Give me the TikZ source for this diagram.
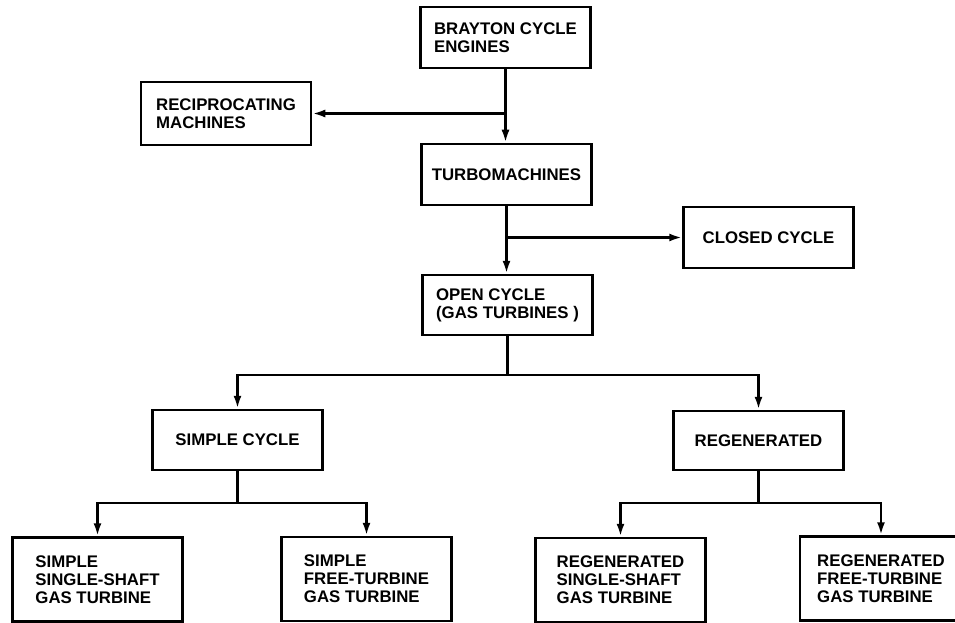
\documentclass[tikz,border=0pt]{standalone}
\usepackage{fontspec}
\setmainfont{Liberation Sans}
\usetikzlibrary{arrows.meta}
\tikzset{
  box/.style={draw, line width=2.5pt, rectangle, align=left, inner sep=0pt,
    font=\bfseries\fontsize{16.8}{18}\selectfont, minimum width=170pt, minimum height=61pt},
  tallbox/.style={box, minimum height=84pt},
  conn/.style={line width=2.6pt},
  arr/.style={conn, -{Latex[length=13pt,width=8pt]}}
}
\begin{document}
\begin{tikzpicture}[x=1pt,y=-1pt]
\useasboundingbox (0,0) rectangle (955,623);
\clip (0,0) rectangle (955,623);
\node[box] (brayton) at (505.5,37.5) {BRAYTON CYCLE\\ENGINES};
\node[box, minimum height=63pt] (recip) at (226,113.5) {RECIPROCATING\\MACHINES};
\node[box] (turbo) at (506.5,174.5) {TURBOMACHINES};
\node[box] (closed) at (768.5,237.5) {CLOSED CYCLE};
\node[box, minimum height=60pt] (open) at (507.5,305) {OPEN CYCLE\\(GAS TURBINES )};
\node[box, minimum height=60pt] (simple) at (237.5,440) {SIMPLE CYCLE};
\node[box, minimum height=59pt] (regen) at (758.5,440.5) {REGENERATED};
\node[tallbox] (ss) at (97.5,579.5) {SIMPLE\\SINGLE-SHAFT\\GAS TURBINE};
\node[tallbox] (sf) at (366.5,579) {SIMPLE\\FREE-TURBINE\\GAS TURBINE};
\node[tallbox] (rss) at (620.5,580) {REGENERATED\\SINGLE-SHAFT\\GAS TURBINE};
\node[tallbox, minimum width=162pt] (rft) at (881,578.5) {REGENERATED\\FREE-TURBINE\\GAS TURBINE};
% connectors
\draw[arr] (brayton.south) -- (brayton.south |- turbo.north);
\draw[arr] (brayton.south |- recip.east) -- (recip.east);
\draw[arr] (turbo.south) -- (turbo.south |- open.north);
\draw[arr] (turbo.south |- closed.west) -- (closed.west);
\coordinate (j1) at (507.5,375);
\draw[conn] (open.south) -- (j1);
\draw[arr] (j1) -| (simple.north);
\draw[arr] (j1) -| (regen.north);
\coordinate (j2) at (237.5,503);
\draw[conn] (simple.south) -- (j2);
\draw[arr] (j2) -| (ss.north);
\draw[arr] (j2) -| (sf.north);
\coordinate (j3) at (758.5,503);
\draw[conn] (regen.south) -- (j3);
\draw[arr] (j3) -| (rss.north);
\draw[arr] (j3) -| (rft.north);
\end{tikzpicture}
\end{document}
